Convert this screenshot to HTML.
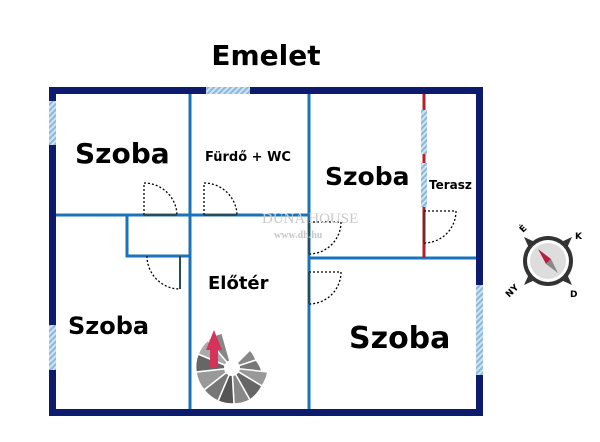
<!DOCTYPE html>
<html><head><meta charset="utf-8"><style>
html,body{margin:0;padding:0;background:#fff;}
svg{display:block;}
text{font-family:"DejaVu Sans","Liberation Sans",sans-serif;font-weight:bold;fill:#000;}
</style></head><body>
<svg width="600" height="442" viewBox="0 0 600 442" xmlns="http://www.w3.org/2000/svg">
<defs>
<pattern id="h" width="4" height="4" patternUnits="userSpaceOnUse" patternTransform="rotate(45)">
<rect width="4" height="4" fill="#cfe3f3"/><rect width="2" height="4" fill="#8db8dc"/></pattern>
</defs>
<text x="266" y="65" font-size="28" text-anchor="middle">Emelet</text>
<rect x="52.5" y="90.5" width="427" height="322" fill="none" stroke="#0d1b6e" stroke-width="7"/>
<rect x="206" y="87" width="44" height="7" fill="url(#h)"/>
<rect x="49" y="101" width="7" height="44" fill="url(#h)"/>
<rect x="49" y="325" width="7" height="45" fill="url(#h)"/>
<rect x="476" y="285" width="7" height="90" fill="url(#h)"/>
<g stroke="#1a73b8" stroke-width="3" fill="none">
<line x1="190" y1="94" x2="190" y2="409"/>
<line x1="309" y1="94" x2="309" y2="409"/>
<line x1="56" y1="215" x2="309" y2="215"/>
<polyline points="127,215 127,256 190,256"/>
<line x1="309" y1="258" x2="476" y2="258"/>
</g>
<line x1="424" y1="94" x2="424" y2="258" stroke="#b3202a" stroke-width="3"/>
<rect x="421" y="110" width="6" height="44" fill="url(#h)"/>
<rect x="421" y="163" width="6" height="44" fill="url(#h)"/>
<g fill="none" stroke="#000" stroke-width="1.3" stroke-dasharray="2,2">
<path d="M144,215 V183 A33,33 0 0 1 177,215"/>
<path d="M204,215 V183 A33,33 0 0 1 237,215"/>
<path d="M147,256 A33,33 0 0 0 180,289 V256"/>
<path d="M309,222 H341 A32,32 0 0 1 309,254"/>
<path d="M309,272 H341 A32,32 0 0 1 309,304"/>
<path d="M424,211 H456 A32,32 0 0 1 424,243"/>
</g>
<g stroke="#2a4a55" stroke-width="2">
<line x1="144" y1="215" x2="177" y2="215"/>
<line x1="204" y1="215" x2="237" y2="215"/>
<line x1="180" y1="256" x2="180" y2="289"/>
<line x1="309" y1="222" x2="309" y2="254"/>
<line x1="309" y1="272" x2="309" y2="304"/>
<line x1="424" y1="211" x2="424" y2="243" stroke="#6b2a2a"/>
</g>
<text x="262" y="223" font-size="15" style="fill:#c8c8c8;font-family:'Liberation Serif',serif;font-weight:normal">DUNA HOUSE</text>
<text x="274" y="238" font-size="10" style="fill:#c8c8c8;font-family:'Liberation Serif',serif">www.dh.hu</text>
<text x="75" y="163" font-size="28">Szoba</text>
<text x="205" y="161" font-size="13">Fürdő + WC</text>
<text x="325" y="185" font-size="25">Szoba</text>
<text x="429" y="189" font-size="12">Terasz</text>
<text x="208" y="289" font-size="18">Előtér</text>
<text x="68" y="334" font-size="24">Szoba</text>
<text x="349" y="348" font-size="30">Szoba</text>
<g stroke="#fff" stroke-width="1.5">
<path d="M232,368 L250,350 A26,26 0 0 1 256,360 Z" fill="#888"/>
<path d="M232,368 L256,360 A26,26 0 0 1 262,372 Z" fill="#777"/>
<path d="M232,368 L268,372 A36,36 0 0 1 262,386 Z" fill="#999"/>
<path d="M232,368 L262,386 A36,36 0 0 1 250,400 Z" fill="#666"/>
<path d="M232,368 L250,400 A36,36 0 0 1 234,404 Z" fill="#888"/>
<path d="M232,368 L234,404 A36,36 0 0 1 218,401 Z" fill="#555"/>
<path d="M232,368 L218,401 A36,36 0 0 1 204,390 Z" fill="#777"/>
<path d="M232,368 L204,390 A36,36 0 0 1 196,372 Z" fill="#999"/>
<path d="M232,368 L196,372 A36,36 0 0 1 198,354 Z" fill="#666"/>
<path d="M232,368 L198,354 A36,36 0 0 1 208,340 Z" fill="#aaa"/>
<path d="M232,368 L208,340 A36,36 0 0 1 222,333 Z" fill="#888"/>
</g>
<circle cx="232" cy="368" r="8" fill="#fff"/>
<path d="M214,330 L222,350 L218,350 L218,368 L210,368 L210,350 L206,350 Z" fill="#d6335a"/>
<g transform="translate(548,261)">
<path d="M-24,-24 L0,-13 L24,-24 L13,0 L24,24 L0,13 L-24,24 L-13,0 Z" fill="#333"/>
<circle r="25" fill="#333"/>
<circle r="21" fill="#fff"/>
<circle r="18" fill="#ddd"/>
<path d="M-10,-12 L3,-2 L-2,3 Z" fill="#b3203f"/>
<path d="M10,12 L3,-2 L-2,3 Z" fill="#888"/>
<text x="-25" y="-28" font-size="9" transform="rotate(-45 -25 -28)">É</text>
<text x="27" y="-22" font-size="9">K</text>
<text x="-40" y="34" font-size="9" transform="rotate(-45 -36 34)">NY</text>
<text x="22" y="36" font-size="9">D</text>
</g>
</svg>
</body></html>
